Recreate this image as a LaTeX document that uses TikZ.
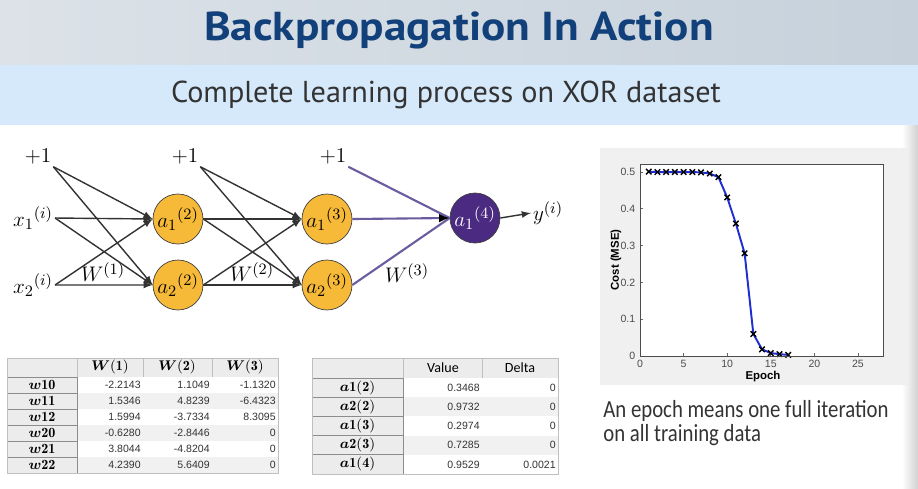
\documentclass[tikz,border=0pt]{standalone}
\usepackage{fontspec}
\usepackage{amsmath,bm}
\usetikzlibrary{positioning, arrows, arrows.meta}
\newfontfamily\hdrfont{PT Sans}
\newfontfamily\capfont{Carlito}
\newfontfamily\tabfont{Liberation Sans}
\definecolor{titleblue}{HTML}{11407A}
\definecolor{hdrL}{HTML}{DCE2E8}
\definecolor{hdrR}{HTML}{C6D1DB}
\definecolor{subband}{HTML}{D5E9FB}
\definecolor{unitfill}{HTML}{F7B938}
\definecolor{outfill}{HTML}{4B2A82}
\definecolor{purpleedge}{HTML}{6A5C9E}
\definecolor{rowgray}{HTML}{F1F1F1}
\definecolor{cellgray}{HTML}{ECECEC}
\definecolor{plotbg}{HTML}{F0F0F0}
\definecolor{costblue}{HTML}{1E2ED2}

\begin{document}
\begin{tikzpicture}[
    x=0.02cm, y=-0.02cm, >=latex,
    unit/.style={circle, draw=black!75, fill=unitfill, minimum size=1cm, inner sep=0pt, font=\fontsize{13}{15}\selectfont},
    outunit/.style={unit, fill=outfill, text=white},
    lbl/.style={inner sep=1pt, font=\fontsize{13}{15}\selectfont},
    wire/.style={->, black!80, thick},
    pwire/.style={purpleedge, line width=1.2pt},
    rowhead/.style={draw=black!45, fill=cellgray, minimum width=1.4cm, minimum height=0.32cm, inner sep=0pt, font=\fontsize{8}{9}\selectfont},
    num/.style={anchor=east, inner sep=0pt, font=\tabfont\fontsize{6}{7}\selectfont, text=black!80},
    tick/.style={font=\tabfont\fontsize{6}{7}\selectfont, text=black!70, inner sep=1pt},
    captext/.style={anchor=base west, inner sep=0pt, text=black!80, font=\capfont\fontsize{14}{16}\selectfont}
]
\useasboundingbox (0,0) rectangle (918,488);

% header bands
\fill[left color=hdrL, right color=hdrR] (0,0) rectangle (918,65);
\fill[subband] (0,65) rectangle (918,125);
\fill[left color=white, right color=black!18] (902,125) rectangle (918,488);
\node[anchor=base, inner sep=0pt, text=titleblue, font=\hdrfont\bfseries\fontsize{23}{28}\selectfont] (title) at (459,40) {\scalebox{1.12}[1]{Backpropagation In Action}};
\node[anchor=base, inner sep=0pt, text=black!80, font=\hdrfont\fontsize{17.2}{21}\selectfont] (subtitle) at (446,102) {Complete learning process on XOR dataset};

% network
\node[lbl] (b1) at (38,157) {$+1$};
\node[lbl] (x1) at (33,218) {$x_1{}^{(i)}$};
\node[lbl] (x2) at (33,285) {$x_2{}^{(i)}$};
\node[unit] (a12) at (178,219) {$a_1{}^{(2)}$};
\node[unit, below of=a12, node distance=1.32cm] (a22) {$a_2{}^{(2)}$};
\node[lbl] (b2) at (185,157) {$+1$};
\node[unit] (a13) at (327,219) {$a_1{}^{(3)}$};
\node[unit, below of=a13, node distance=1.32cm] (a23) {$a_2{}^{(3)}$};
\node[lbl] (b3) at (333,157) {$+1$};
\node[outunit] (a14) at (475,218) {$a_1{}^{(4)}$};
\node[lbl] (y) at (548,213) {$y^{(i)}$};

\node[lbl] (w1) at (103,272) {$W^{(1)}$};
\node[lbl] (w2) at (252,272) {$W^{(2)}$};
\node[lbl] (w3) at (407,273) {$W^{(3)}$};

\path   (b1.south east) edge[wire] (a12.west)
        (b1.south east) edge[wire] (a22.west)
        (x1.east) edge[wire] (a12.west)
        (x1.east) edge[wire] (a22.west)
        (x2.east) edge[wire] (a12.west)
        (x2.east) edge[wire] (a22.west);

\path   (b2.south east) edge[wire] (a13.west)
        (b2.south east) edge[wire] (a23.west)
        (a12.east) edge[wire] (a13.west)
        (a12.east) edge[wire] (a23.west)
        (a22.east) edge[wire] (a13.west)
        (a22.east) edge[wire] (a23.west);

\path   (b3.south east) edge[pwire] (a14.west)
        (a23.east) edge[pwire] (a14.west)
        (a13.east) edge[pwire, -{Latex[black, length=6pt, width=5pt]}] (a14.west)
        (a14.east) edge[wire] (y.west);

% weight table
\draw[black!25, fill=cellgray] (7,358) rectangle (278,377);
\draw[black!25] (77,358) -- (77,377) (143,358) -- (143,377) (212,358) -- (212,377);
\node[font=\fontsize{8}{9}\selectfont] (t1h1) at (110,367) {$\bm{W}\mathbf{(1)}$};
\node[font=\fontsize{8}{9}\selectfont] (t1h2) at (177,367) {$\bm{W}\mathbf{(2)}$};
\node[font=\fontsize{8}{9}\selectfont] (t1h3) at (245,367) {$\bm{W}\mathbf{(3)}$};
\foreach \lab/\bg/\va/\vb/\vc [count=\r] in {
    10/white/-2.2143/1.1049/-1.1320,
    11/rowgray/1.5346/4.8239/-6.4323,
    12/white/1.5994/-3.7334/8.3095,
    20/rowgray/-0.6280/-2.8446/0,
    21/white/3.8044/-4.8204/0,
    22/rowgray/4.2390/5.6409/0}{
  \fill[\bg] (77,{377+(\r-1)*16}) rectangle (278,{377+\r*16});
  \node[rowhead] (t1r\r) at (42,{385+(\r-1)*16}) {$\bm{w}\mathbf{\lab}$};
  \node[num] (t1a\r) at (141,{385+(\r-1)*16}) {\va};
  \node[num] (t1b\r) at (210,{385+(\r-1)*16}) {\vb};
  \node[num] (t1c\r) at (276,{385+(\r-1)*16}) {\vc};
}
\draw[black!25] (7,358) rectangle (278,473);

% activation table
\draw[black!25, fill=cellgray] (312,358) rectangle (558,378);
\draw[black!25] (403,358) -- (403,378) (482,358) -- (482,378);
\node[font=\capfont\fontsize{8}{9}\selectfont] (t2h1) at (443,368) {Value};
\node[font=\capfont\fontsize{8}{9}\selectfont] (t2h2) at (520,368) {Delta};
\foreach \lab/\lay/\bg/\va/\vb [count=\r] in {
    1/2/white/0.3468/0,
    2/2/rowgray/0.9732/0,
    1/3/white/0.2974/0,
    2/3/rowgray/0.7285/0,
    1/4/white/0.9529/0.0021}{
  \fill[\bg] (403,{378+(\r-1)*19.2}) rectangle (558,{378+\r*19.2});
  \node[rowhead, minimum width=1.82cm, minimum height=0.384cm] (t2r\r) at (357.5,{387.6+(\r-1)*19.2}) {$\bm{a}\mathbf{\lab(\lay)}$};
  \node[num] (t2a\r) at (480,{387.6+(\r-1)*19.2}) {\va};
  \node[num] (t2b\r) at (556,{387.6+(\r-1)*19.2}) {\vb};
}
\draw[black!25] (312,358) rectangle (558,474);

% cost plot
\fill[plotbg] (600,148) rectangle (908,385);
\fill[white] (640,164) rectangle (883,356);
\begin{scope}[shift={(640,356)}, x=0.1744cm, y=7.36cm]
  \foreach \t in {0,5,...,25} {
    \draw[black!60] (\t,0) -- (\t,0.008);
    \node[tick, below] (xt\t) at (\t,-0.005) {\t};
  }
  \foreach \c in {0,0.1,0.2,0.3,0.4,0.5} {
    \draw[black!60] (0,\c) -- (0.35,\c);
    \node[tick, left] (yt\c) at (-0.3,\c) {\c};
  }
  \draw[costblue, line width=1.1pt, mark=x, mark size=2.2pt,
        mark options={black, line width=0.8pt}]
    plot coordinates {(1,0.501) (2,0.5) (3,0.5) (4,0.5) (5,0.5) (6,0.5) (7,0.499)
      (8,0.496) (9,0.486) (10,0.431) (11,0.36) (12,0.279) (13,0.06) (14,0.018)
      (15,0.008) (16,0.005) (17,0.003)};
\end{scope}
\draw[black!70] (640,164) rectangle (883,356);
\node[font=\tabfont\bfseries\fontsize{6.5}{7}\selectfont, rotate=90] (ylab) at (616,260) {Cost (MSE)};
\node[font=\tabfont\bfseries\fontsize{6.5}{7}\selectfont] (xlab) at (763,377) {Epoch};

% caption
\node[captext] (cap1) at (603,417) {\scalebox{0.845}[1]{An epoch means one full iteration}};
\node[captext] (cap2) at (603,441) {\scalebox{0.845}[1]{on all training data}};

\end{tikzpicture}
\end{document}
